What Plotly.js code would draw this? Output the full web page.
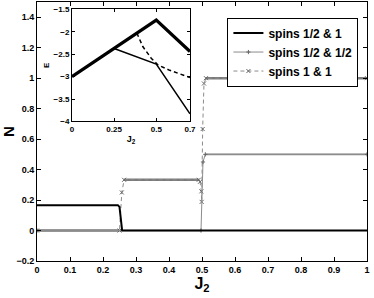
<!DOCTYPE html>
<html>
<head>
<meta charset="utf-8">
<script src="https://cdn.plot.ly/plotly-3.0.1.min.js"></script>
<style>html,body{margin:0;padding:0;background:#fff;}#chart{width:374px;height:298px;}</style>
</head>
<body>
<div id="chart"></div>
<script>
// ---- main panel data: N versus J2 ----
var j2HalfOne = [0, 0.245, 0.25, 0.258, 1];
var nHalfOne  = [0.1667, 0.1667, 0.155, 0, 0];

var j2HalfHalf = [0, 0.497, 0.503, 0.51, 1];
var nHalfHalf  = [0, 0, 0.45, 0.5, 0.5];

var j2OneOne = [0, 0.25, 0.257, 0.264, 0.49, 0.494, 0.498, 0.499, 0.502, 0.506, 0.512, 1];
var nOneOne  = [0, 0, 0.25, 0.333, 0.333, 0.32, 0.257, 0.188, 0.666, 0.965, 1, 1];

// ---- inset data: E versus J2 ----
var insetJ2Thick = [0, 0.5, 0.7];
var insetEThick  = [-3, -1.74, -2.44];
var insetJ2Thin  = [0.25, 0.5, 0.7];
var insetEThin   = [-2.375, -2.72, -3.83];
var insetJ2Dash  = [0.385, 0.42, 0.47, 0.51, 0.58, 0.7];
var insetEDash   = [-2.03, -2.33, -2.59, -2.74, -2.86, -3.02];

// tick labels
var mainXTicks = [0, 0.1, 0.2, 0.3, 0.4, 0.5, 0.6, 0.7, 0.8, 0.9, 1];
var mainYTicks = [-0.2, 0, 0.2, 0.4, 0.6, 0.8, 1, 1.2, 1.4];
var insetXTicks = [0, 0.25, 0.5, 0.7];
var insetYTicks = [-4, -3.5, -3, -2.5, -2, -1.5];
var seriesNames = ['spins 1/2 &amp; 1', 'spins 1/2 &amp; 1/2', 'spins 1 &amp; 1'];

// plateau helper: keep only flat segments (derived from the data) for the dense-marker band look
function plateaus(xs, ys) {
  var px = [], py = [];
  for (var i = 0; i < xs.length - 1; i++) {
    if (ys[i] === ys[i + 1]) { px.push(xs[i], xs[i + 1], null); py.push(ys[i], ys[i + 1], null); }
  }
  return {x: px, y: py};
}

var FONT = 'Arial, "Liberation Sans", Helvetica, sans-serif';
var p11 = plateaus(j2OneOne, nOneOne);
var p1212 = plateaus(j2HalfHalf, nHalfHalf);

var traces = [
  {x: p11.x, y: p11.y, mode: 'lines', line: {color: '#7a7a7a', width: 2.4}, showlegend: false, hoverinfo: 'skip'},
  {x: p1212.x, y: p1212.y, mode: 'lines', line: {color: '#8a8a8a', width: 1.6}, showlegend: false, hoverinfo: 'skip'},
  {x: j2OneOne, y: nOneOne, name: seriesNames[2], mode: 'lines+markers',
   line: {color: '#8c8c8c', width: 1, dash: '4px,3px'},
   marker: {symbol: 'x-thin', size: 4, color: '#666', line: {color: '#666', width: 1}}, legendrank: 3},
  {x: j2HalfHalf, y: nHalfHalf, name: seriesNames[1], mode: 'lines+markers',
   line: {color: '#8c8c8c', width: 1},
   marker: {symbol: 'cross-thin', size: 3, color: '#666', line: {color: '#666', width: 1}}, legendrank: 2},
  {x: j2HalfOne, y: nHalfOne, name: seriesNames[0], mode: 'lines',
   line: {color: '#000', width: 2}, legendrank: 1},
  // inset
  {x: insetJ2Thick, y: insetEThick, xaxis: 'x2', yaxis: 'y2', mode: 'lines', line: {color: '#000', width: 3.2}, showlegend: false},
  {x: insetJ2Thin, y: insetEThin, xaxis: 'x2', yaxis: 'y2', mode: 'lines', line: {color: '#000', width: 1.5}, showlegend: false},
  {x: insetJ2Dash, y: insetEDash, xaxis: 'x2', yaxis: 'y2', mode: 'lines', line: {color: '#000', width: 1.5, dash: '4px,3px'}, showlegend: false}
];

var axisCommon = {
  showline: true, linecolor: '#000', linewidth: 1, mirror: 'ticks',
  ticks: 'inside', ticklen: 4, tickcolor: '#000', tickwidth: 1,
  showgrid: false, zeroline: false
};

var layout = {
  width: 374, height: 298,
  margin: {l: 37, r: 7, t: 2, b: 37},
  paper_bgcolor: '#fff', plot_bgcolor: '#fff',
  font: {family: FONT, color: '#000'},
  showlegend: true,
  legend: {x: 0.577, y: 0.94, xanchor: 'left', yanchor: 'top',
           bgcolor: '#fff', bordercolor: '#000', borderwidth: 1,
           font: {family: FONT, size: 12, weight: 'bold', color: '#000'},
           traceorder: 'normal'},
  xaxis: Object.assign({}, axisCommon, {
    range: [0, 1], tickvals: mainXTicks,
    tickfont: {family: FONT, size: 9, weight: 'bold'},
    title: {text: 'J<sub>2</sub>', font: {family: FONT, size: 16, weight: 'bold'}, standoff: 3}
  }),
  yaxis: Object.assign({}, axisCommon, {
    range: [-0.2, 1.5], tickvals: mainYTicks,
    tickfont: {family: FONT, size: 9, weight: 'bold'},
    title: {text: 'N', font: {family: FONT, size: 15, weight: 'bold'}, standoff: 5}
  }),
  xaxis2: Object.assign({}, axisCommon, {
    domain: [0.106, 0.4636], anchor: 'y2', range: [0, 0.7], tickvals: insetXTicks,
    ticktext: ['0', '0.25', '0.5', '0.7'],
    tickfont: {family: FONT, size: 8, weight: 'bold'}, ticklen: 3,
    title: {text: 'J<sub>2</sub>', font: {family: FONT, size: 9, weight: 'bold'}, standoff: 2}
  }),
  yaxis2: Object.assign({}, axisCommon, {
    domain: [0.5387, 0.9719], anchor: 'x2', range: [-4, -1.5], tickvals: insetYTicks,
    tickfont: {family: FONT, size: 8, weight: 'bold'}, ticklen: 3,
    title: {text: 'E', font: {family: FONT, size: 8, weight: 'bold'}, standoff: 2}
  }),
  shapes: [{type: 'rect', xref: 'paper', yref: 'paper', x0: 0.106, x1: 0.4636, y0: 0.5387, y1: 0.9719,
            fillcolor: '#fff', line: {width: 0}, layer: 'below'}]
};

Plotly.newPlot('chart', traces, layout, {displayModeBar: false, staticPlot: true});
</script>
</body>
</html>
